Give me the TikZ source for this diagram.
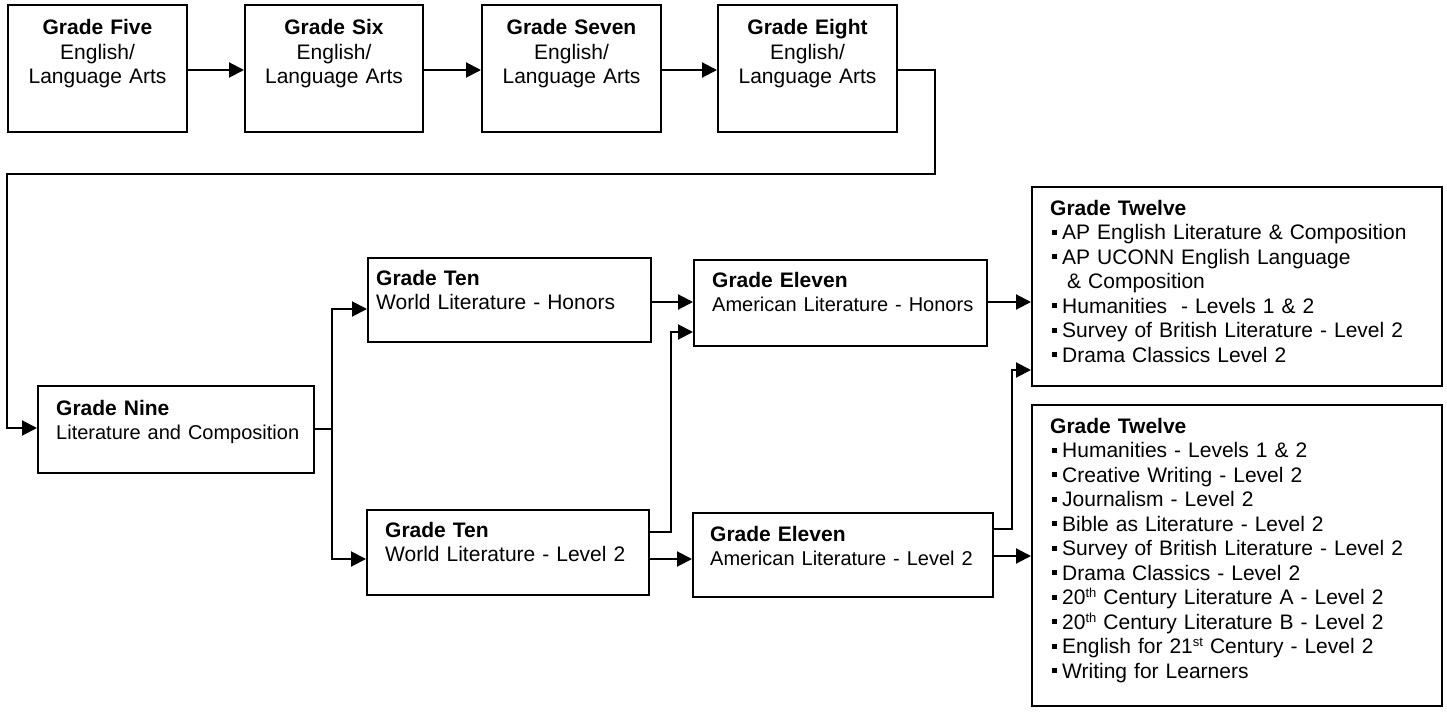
\documentclass[tikz,border=0pt]{standalone}
\usepackage{fontspec}
\setmainfont{Liberation Sans}
\usetikzlibrary{arrows.meta}
\newcommand\sqb{\makebox[12pt][l]{\hspace*{2pt}\raisebox{5pt}{\rule{5pt}{5pt}}}}
\newcommand\sups[1]{\raisebox{7pt}{\fontsize{13}{13}\selectfont #1}}
\newcommand\smallline[1]{{\fontsize{20}{24.5}\selectfont #1}}
\begin{document}
\begin{tikzpicture}[x=1pt,y=-1pt,
  font=\fontsize{21}{24.5}\selectfont,
  box/.style={draw, line width=2pt, inner sep=0pt},
  ctext/.style={inner sep=0pt, anchor=base, text width=179pt, align=center},
  ltext/.style={inner sep=0pt, anchor=base west, text width=380pt, align=left},
  conn/.style={line width=2pt},
  arr/.style={line width=2pt, -{Triangle[length=15pt,width=15pt]}}]
\useasboundingbox (0,0) rectangle (1447,715);
% top row
\node[box, minimum width=179pt, minimum height=126.5pt] (g5) at (97.5,68.25) {};
\node[box, minimum width=178pt, minimum height=126.5pt] (g6) at (334,68.25) {};
\node[box, minimum width=179pt, minimum height=126.5pt] (g7) at (571.5,68.25) {};
\node[box, minimum width=179pt, minimum height=126.5pt] (g8) at (807.5,68.25) {};
\node[ctext] (t5) at (97.5,34.5) {\textbf{Grade Five}\\English/\\Language Arts};
\node[ctext] (t6) at (334,34.5) {\textbf{Grade Six}\\English/\\Language Arts};
\node[ctext] (t7) at (571.5,34.5) {\textbf{Grade Seven}\\English/\\Language Arts};
\node[ctext] (t8) at (807.5,34.5) {\textbf{Grade Eight}\\English/\\Language Arts};
% lower boxes
\node[box, minimum width=276pt, minimum height=87pt] (g9) at (176,429.5) {};
\node[box, minimum width=283pt, minimum height=84pt] (t10h) at (509.5,300) {};
\node[box, minimum width=282pt, minimum height=85pt] (t10l) at (508,552.5) {};
\node[box, minimum width=293pt, minimum height=86pt] (e11h) at (840.5,303) {};
\node[box, minimum width=300pt, minimum height=84pt] (e11l) at (843,555) {};
\node[box, minimum width=410pt, minimum height=199pt] (tw1) at (1237,286.5) {};
\node[box, minimum width=410pt, minimum height=301pt] (tw2) at (1237,555.5) {};
% texts
\node[ltext] (x9) at (56,415) {\textbf{Grade Nine}\\\smallline{Literature and Composition}};
\node[ltext] (x10h) at (376,285) {\textbf{Grade Ten}\\World Literature - Honors};
\node[ltext] (x10l) at (385,537) {\textbf{Grade Ten}\\World Literature - Level 2};
\node[ltext] (x11h) at (712,287) {\textbf{Grade Eleven}\\\smallline{American Literature - Honors}};
\node[ltext] (x11l) at (710,541) {\textbf{Grade Eleven}\\\smallline{American Literature - Level 2}};
\node[ltext] (x12a) at (1050,215) {\textbf{Grade Twelve}\\
\sqb AP English Literature \& Composition\\
\sqb AP UCONN English Language\\
\hspace*{17pt}\& Composition\\
\sqb Humanities\ \ - Levels 1 \& 2\\
\sqb Survey of British Literature - Level 2\\
\sqb Drama Classics Level 2};
\node[ltext] (x12b) at (1050,433) {\textbf{Grade Twelve}\\
\sqb Humanities - Levels 1 \& 2\\
\sqb Creative Writing - Level 2\\
\sqb Journalism - Level 2\\
\sqb Bible as Literature - Level 2\\
\sqb Survey of British Literature - Level 2\\
\sqb Drama Classics - Level 2\\
\sqb 20\sups{th} Century Literature A - Level 2\\
\sqb 20\sups{th} Century Literature B - Level 2\\
\sqb English for 21\sups{st} Century - Level 2\\
\sqb Writing for Learners};
% coordinates
\coordinate (c1) at (935,174);
\coordinate (c2) at (7,174);
\coordinate (sp) at (332,429);
\coordinate (j1) at (671,532);
\coordinate (j2) at (1012,529);
% connectors
\draw[arr] (g5.east|-0,70) -- (g6.west|-0,70);
\draw[arr] (g6.east|-0,70) -- (g7.west|-0,70);
\draw[arr] (g7.east|-0,70) -- (g8.west|-0,70);
\draw[arr] (g8.east|-0,70) -- (c1|-0,70) -- (c1) -- (c2) |- (g9.west|-0,428);
\draw[conn] (g9.east|-0,429) -- (sp);
\draw[arr] (sp) |- (t10h.west|-0,309);
\draw[arr] (sp) |- (t10l.west|-0,559);
\draw[arr] (t10h.east|-0,302) -- (e11h.west|-0,302);
\draw[arr] (t10l.east|-0,532) -- (j1) |- (e11h.west|-0,332);
\draw[arr] (t10l.east|-0,559) -- (e11l.west|-0,559);
\draw[arr] (e11h.east|-0,302) -- (tw1.west|-0,302);
\draw[arr] (e11l.east|-0,529) -- (j2) |- (tw1.west|-0,370);
\draw[arr] (e11l.east|-0,556) -- (tw2.west|-0,556);
\end{tikzpicture}
\end{document}
